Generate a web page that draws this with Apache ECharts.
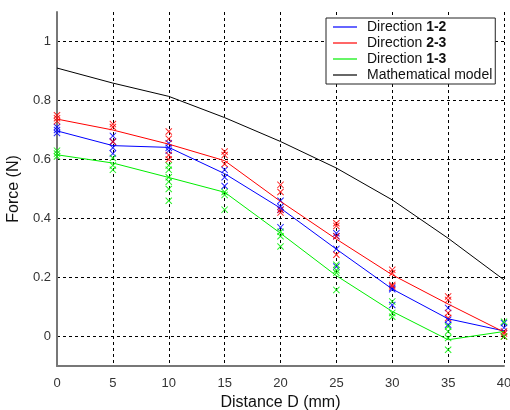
<!DOCTYPE html>
<html>
<head>
<meta charset="utf-8">
<script src="https://cdn.jsdelivr.net/npm/echarts@6/dist/echarts.min.js"></script>
<style>
html,body{margin:0;padding:0;background:#fff;}
#chart{width:510px;height:410px;}
</style>
</head>
<body>
<div id="chart"></div>
<script>
const distance = [0, 5, 10, 15, 20, 25, 30, 35, 40];
const seriesNames = ['Direction 1-2', 'Direction 2-3', 'Direction 1-3', 'Mathematical model'];
const dir12 = [0.697, 0.647, 0.641, 0.552, 0.435, 0.296, 0.161, 0.060, 0.019];
const dir23 = [0.737, 0.700, 0.652, 0.596, 0.458, 0.330, 0.209, 0.110, 0.015];
const dir13 = [0.616, 0.588, 0.539, 0.489, 0.350, 0.206, 0.085, -0.011, 0.017];
const model = [0.910, 0.859, 0.814, 0.742, 0.661, 0.571, 0.463, 0.333, 0.192];

const trials12 = [[0.70, 0.71, 0.69], [0.68, 0.66, 0.64, 0.62], [0.655, 0.63, 0.64], [0.565, 0.54, 0.51],
  [0.46, 0.44, 0.43, 0.37], [0.35, 0.34, 0.297, 0.237], [0.165, 0.107, 0.16], [0.097, 0.057, 0.04], [0.046, 0.03]];
const trials23 = [[0.74, 0.75, 0.73], [0.72, 0.71, 0.66], [0.695, 0.67, 0.615, 0.60], [0.627, 0.615, 0.585],
  [0.514, 0.49, 0.42, 0.43], [0.384, 0.375, 0.277, 0.34], [0.226, 0.215, 0.175, 0.17], [0.136, 0.124, 0.08, 0.063], [0.017, 0.0, 0.01]];
const trials13 = [[0.62, 0.61, 0.63], [0.605, 0.58, 0.565], [0.58, 0.565, 0.54, 0.525, 0.50, 0.46], [0.49, 0.43, 0.48],
  [0.355, 0.34, 0.305], [0.243, 0.225, 0.216, 0.158], [0.119, 0.08, 0.067], [0.034, 0.017, -0.005, -0.045], [0.05, 0.0]];

const colors = ['#0000ff', '#ff0000', '#00ee00', '#000000'];
const xMark = 'path://M0,1 L1,0 L5,4 L9,0 L10,1 L6,5 L10,9 L9,10 L5,6 L1,10 L0,9 L4,5 Z';
const lineIcon = 'path://M0,0 L24,0 L24,1.2 L0,1.2 Z';

function pairs(vals) { return distance.map((d, i) => [d, vals[i]]); }
function trialPoints(tr) {
  const out = [];
  tr.forEach((arr, i) => arr.forEach(v => out.push([distance[i], v])));
  return out;
}

const lineData = [dir12, dir23, dir13, model];
const trialData = [trials12, trials23, trials13];

const series = [];
trialData.forEach((tr, k) => {
  series.push({
    name: seriesNames[k] + ' trials',
    type: 'scatter',
    data: trialPoints(tr),
    symbol: xMark,
    symbolSize: 7,
    itemStyle: { color: colors[k], opacity: 0.85 },
    z: 3
  });
});
lineData.forEach((vals, k) => {
  series.push({
    name: seriesNames[k],
    type: 'line',
    data: pairs(vals),
    symbol: 'none',
    lineStyle: { color: colors[k], width: 1 },
    itemStyle: { color: colors[k] },
    z: 4
  });
});

const chart = echarts.init(document.getElementById('chart'));
chart.setOption({
  animation: false,
  backgroundColor: '#fff',
  textStyle: { fontFamily: 'Liberation Sans, Arial, sans-serif' },
  grid: { left: 57, right: 6, top: 12, bottom: 44, outerBoundsMode: 'none' },
  legend: {
    data: seriesNames.map(n => ({ name: n, icon: lineIcon })),
    orient: 'vertical',
    left: 326,
    top: 18,
    padding: [2, 3, 2, 7],
    itemGap: 2,
    itemWidth: 24,
    itemHeight: 14,
    symbolKeepAspect: true,
    backgroundColor: '#fff',
    borderColor: '#222',
    borderWidth: 1,
    formatter: name => name.replace(/(\d-\d)/, '{b|$1}'),
    textStyle: {
      fontSize: 14, color: '#111', padding: [0, 0, 0, 5],
      rich: { b: { fontSize: 14, fontWeight: 'bold', color: '#111' } }
    }
  },
  xAxis: {
    type: 'value', min: 0, max: 40, interval: 5,
    name: 'Distance D (mm)', nameLocation: 'middle', nameGap: 27,
    nameTextStyle: { fontSize: 16, color: '#111' },
    axisLine: { onZero: false, lineStyle: { color: '#777', width: 2 } },
    axisTick: { show: false },
    axisLabel: { fontSize: 13, color: '#333', margin: 11 },
    splitLine: { show: true, showMinLine: false, lineStyle: { color: '#000', type: [3, 3], width: 1 } }
  },
  yAxis: {
    type: 'value', min: -0.1, max: 1.1,
    name: 'Force (N)', nameLocation: 'middle', nameGap: 15,
    nameTextStyle: { fontSize: 16, color: '#111' },
    axisLine: { lineStyle: { color: '#777', width: 2 } },
    axisTick: { show: false },
    axisLabel: { fontSize: 13, color: '#333', margin: 6, showMinLabel: false, showMaxLabel: false },
    splitLine: { show: true, showMinLine: false, showMaxLine: false, lineStyle: { color: '#000', type: [3, 3], width: 1 } }
  },
  series: series
});
</script>
</body>
</html>
